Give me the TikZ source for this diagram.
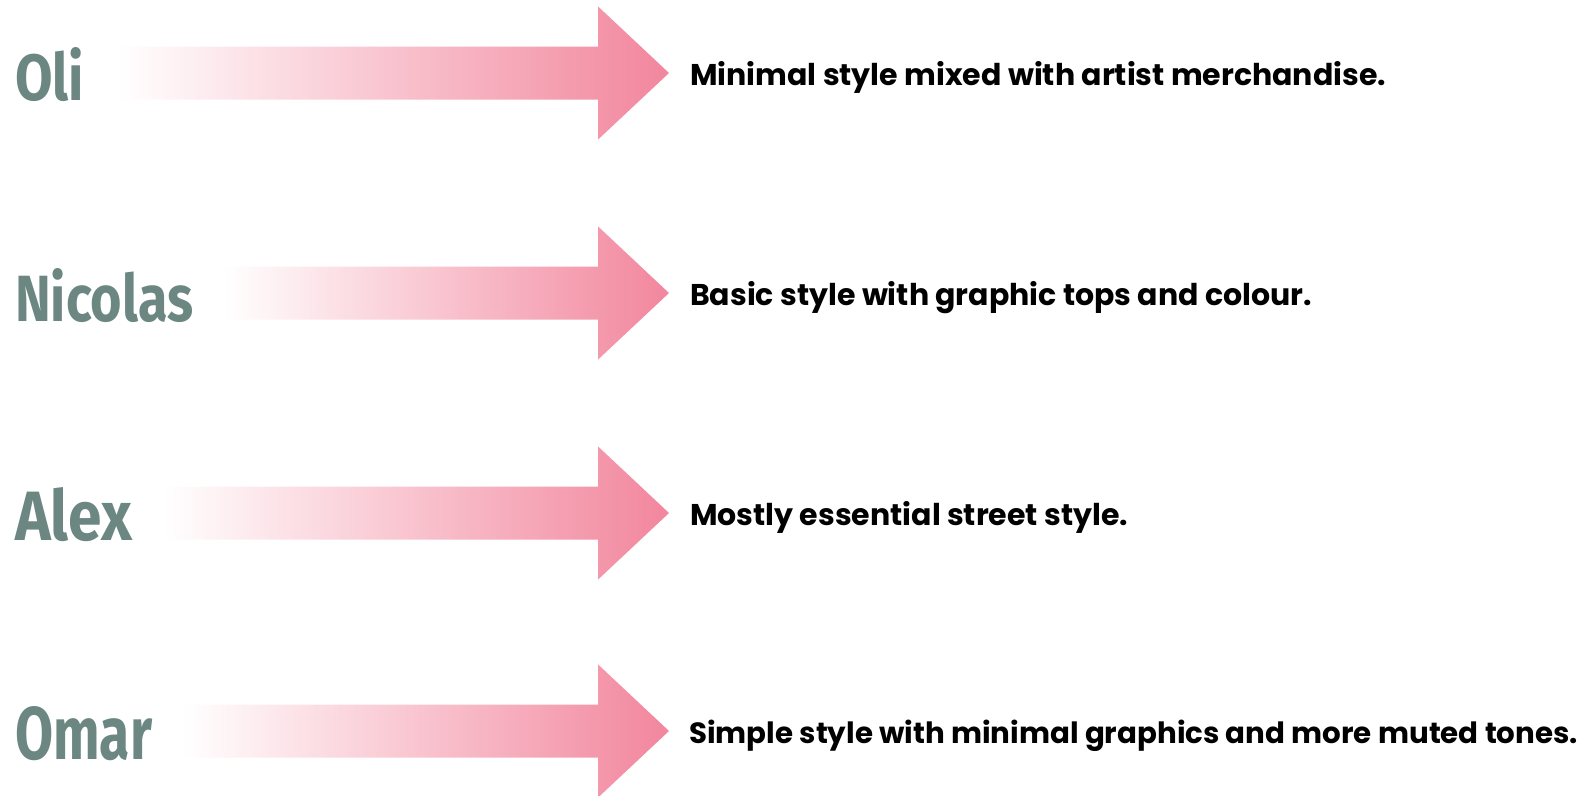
\documentclass[tikz,border=0pt]{standalone}
\usepackage{fontspec}
\setmainfont{Poppins}
\newfontfamily\namefont{Fira Sans}
\definecolor{arrowpink}{HTML}{F2869D}
\definecolor{namegray}{HTML}{6C8782}
\begin{document}
\begin{tikzpicture}[x=1pt,y=-1pt,
  desc/.style={anchor=base west, font=\fontsize{30}{36}\selectfont\bfseries, text=black, inner sep=0},
  personname/.style={anchor=south west, text=namegray, inner sep=0},
  bigarrow/.style={left color=white, right color=arrowpink, draw=none}
]
\useasboundingbox (0,0) rectangle (1595,795);
\foreach \cy/\sx/\n in {73/117/a, 293/224/b, 513/163/c, 731/183/d} {
  \shade[bigarrow] (\sx,\cy-26.5) -- (598,\cy-26.5) -- (598,\cy-66.6) -- (669,\cy)
     -- (598,\cy+66.6) -- (598,\cy+26.5) -- (\sx,\cy+26.5) -- cycle;
}
\node[personname] (oli) at (15,102) {\resizebox{69pt}{53pt}{\namefont\bfseries Oli}};
\node[personname] (nicolas) at (15,323) {\resizebox{178pt}{53pt}{\namefont\bfseries Nicolas}};
\node[personname] (alex) at (15,542) {\resizebox{117pt}{53pt}{\namefont\bfseries Alex}};
\node[personname] (omar) at (15,761) {\resizebox{137pt}{53pt}{\namefont\bfseries Omar}};

\node[desc] (d1) at (690,85) {Minimal style mixed with artist merchandise.};
\node[desc] (d2) at (690,305) {Basic style with graphic tops and colour.};
\node[desc] (d3) at (690,525) {Mostly essential street style.};
\node[desc, font=\fontsize{29.3}{36}\selectfont\bfseries] (d4) at (689,743) {Simple style with minimal graphics and more muted tones.};
\end{tikzpicture}
\end{document}
